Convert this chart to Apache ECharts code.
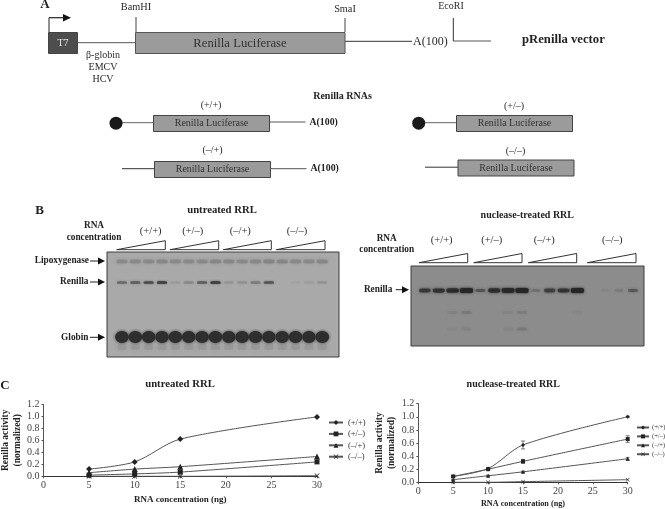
<!DOCTYPE html>
<html><head><meta charset="utf-8">
<style>html,body{margin:0;padding:0;background:#fff}#c{width:665px;height:509px;filter:blur(0.35px)}</style>
<script src="https://cdn.jsdelivr.net/npm/echarts@6/dist/echarts.min.js"></script>
</head><body><div id="c"></div>
<script>
// ---------- data ----------
const seriesNames = ['(+/+)', '(+/\u2013)', '(\u2013/+)', '(\u2013/\u2013)'];
const concentrations = [5, 10, 15, 30];
const untreatedPP = [0.12, 0.24, 0.62, 0.99];
const untreatedPM = [0.02, 0.04, 0.07, 0.24];
const untreatedMP = [0.06, 0.12, 0.16, 0.33];
const untreatedMM = [0.00, 0.00, 0.00, 0.01];
const nucleasePP = [0.09, 0.21, 0.57, 1.00];
const nucleasePM = [0.09, 0.20, 0.32, 0.66];
const nucleaseMP = [0.04, 0.10, 0.16, 0.36];
const nucleaseMM = [0.00, 0.00, 0.01, 0.04];
const nucleasePPErr = [0.01, 0.01, 0.06, 0.01];
const nucleasePMErr = [0.01, 0.01, 0.03, 0.05];
const nucleaseMPErr = [0.00, 0.01, 0.01, 0.02];
const lanes = [0,1,2,3,4,5,6,7,8,9,10,11,12,13,14,15];
const untreatedLipox   = [.45,.45,.45,.5,.45,.45,.45,.5,.5,.45,.5,.55,.5,.45,.45,.5];
const untreatedRenilla = [.4,.5,.7,.9,.08,.18,.5,.95,.1,.14,.28,.6,.0,.03,.06,.12];
const untreatedGlobin  = [1,1,1,1,1,1,1,1,1,1,1,1,1,1,1,1];
const nucleaseRenilla  = [.65,.75,.85,1,.4,.8,.92,1,.2,.6,.72,1,.0,.05,.12,.35];
const nucleaseFaint    = [0,0,.08,.16,0,0,.06,.14,0,0,0,.03,0,0,0,0];
const nucleaseFaint2   = [0,0,.03,.07,0,0,.06,.16,0,0,0,0,0,0,0,0];

// ---------- helpers ----------
const SERIF = '"Liberation Serif","Times New Roman",serif';
const TXT = '#2a2a2a', BOLD = '#222';
const g = [];
function text(x, y, s, size, o) {
  o = o || {};
  g.push({type:'text', x, y, silent:true, z:50, style:{text:s, fill:o.fill||TXT, font:(o.bold?'bold ':'')+size+'px '+SERIF,
    align:o.align||'center', verticalAlign:'middle'}});
}
function line(x1,y1,x2,y2,c,w) {
  g.push({type:'line', silent:true, z:40, shape:{x1,y1,x2,y2}, style:{stroke:c||'#444', lineWidth:w||1}});
}
function box(x,y,w,h,fill,stroke) {
  g.push({type:'rect', silent:true, z:41, shape:{x,y,width:w,height:h}, style:{fill, stroke:stroke||'#555', lineWidth:1}});
}
function arrow(x1,x2,y) {
  line(x1,y,x2-5,y,'#222',1);
  g.push({type:'polygon', silent:true, z:42, shape:{points:[[x2-7,y-3.5],[x2,y],[x2-7,y+3.5]]}, style:{fill:'#111'}});
}
function wedge(x1,x2,yBot,yTop) {
  g.push({type:'polygon', silent:true, z:42, shape:{points:[[x1,yBot],[x2,yTop],[x2,yBot]]}, style:{fill:'#fff',stroke:'#333',lineWidth:1}});
}
function dot(x,y){ g.push({type:'circle', silent:true, z:42, shape:{cx:x,cy:y,r:6.5}, style:{fill:'#1a1a1a'}}); }

// ---------- panel A ----------
text(45,5,'A',13,{bold:true,fill:BOLD});
box(48.5,32.5,29,21,'#4d4d4d','#444'); text(63,43.5,'T7',10,{fill:'#e8e8e8'});
line(49,32,49,17.7,'#222',1); line(49,17.7,64,17.7,'#222',1.2);
g.push({type:'polygon',silent:true,z:42,shape:{points:[[63,14],[71,17.7],[63,21.4]]},style:{fill:'#111'}});
line(78,42.7,135,42.7,'#555',1);
text(103,55,'\u03b2-globin',10); text(103,67,'EMCV',10); text(103,79,'HCV',10);
text(136,7,'BamHI',10.3); line(136,17,136,32,'#444',1);
box(135.5,32.5,209.5,21,'#9b9b9b','#555'); text(240,43.5,'Renilla Luciferase',12.7,{fill:'#333'});
text(345,9,'SmaI',10.3); line(345,18,345,32,'#444',1);
line(345,41.3,412,41.3,'#333',1); text(413,41.5,'A(100)',12,{align:'left'});
text(451,6,'EcoRI',10); line(453.3,18,453.3,41,'#333',1); line(453,41,491,41,'#555',1);
text(522,39.5,'pRenilla vector',12.7,{bold:true,align:'left',fill:BOLD});
text(342.5,96.5,'Renilla RNAs',10,{bold:true,fill:BOLD});

function rna(label,lx,ly,cap,lineStart,boxX,boxY,tail,tailY) {
  text(lx,ly,label,10);
  if (cap) dot(lineStart,boxY+7.7);
  line(lineStart,boxY+7.2,boxX,boxY+7.2,cap?'#666':'#333',1);
  box(boxX,boxY,116,16,'#9b9b9b','#444');
  text(boxX+58,boxY+8.3,'Renilla Luciferase',10,{fill:'#333'});
  if (tail) { line(boxX+116,tailY,boxX+152,tailY,'#555',1); text(boxX+156,tailY,'A(100)',9.8,{bold:true,align:'left',fill:BOLD}); }
}
rna(seriesNames[0],211,105.5,true,116,153.5,115.5,true,122);
rna(seriesNames[2],212.5,150,false,122,154.5,161.5,true,168.7);
rna(seriesNames[1],514,106.5,true,418.7,456.5,115.5,false);
rna(seriesNames[3],515.5,151,false,425,458,160,false);

// ---------- panel B text ----------
text(39.5,211,'B',13,{bold:true,fill:BOLD});
text(222,210,'untreated RRL',10.7,{bold:true,fill:BOLD});
text(94,226,'RNA',9.3,{bold:true,fill:BOLD}); text(94,237.5,'concentration',9.3,{bold:true,fill:BOLD});
[[150.7],[192.7],[240.3],[297]].forEach((p,i)=>text(p[0],231,seriesNames[i],10.5));
[[116.7,165.3],[170,218.7],[223.3,271.3],[276.3,325]].forEach(p=>wedge(p[0],p[1],249.7,240.7));
text(89,260.7,'Lipoxygenase',9.3,{bold:true,align:'right',fill:BOLD}); arrow(90,105,261);
text(88.5,282,'Renilla',9.3,{bold:true,align:'right',fill:BOLD}); arrow(90,105,282);
text(88.5,337.3,'Globin',9.3,{bold:true,align:'right',fill:BOLD}); arrow(90,105,337.3);

text(527.3,215,'nuclease-treated RRL',10,{bold:true,fill:BOLD});
text(386.7,238.7,'RNA',9.3,{bold:true,fill:BOLD}); text(386.7,250,'concentration',9.3,{bold:true,fill:BOLD});
[[441.7],[491.7],[544.3],[612.3]].forEach((p,i)=>text(p[0],240,seriesNames[i],10.5));
[[419,467.7],[473.7,522],[528.3,576.7],[587.3,636]].forEach(p=>wedge(p[0],p[1],262.7,253.5));
text(392.3,289.7,'Renilla',9.3,{bold:true,align:'right',fill:BOLD}); arrow(395.7,409,289.7);

// ---------- panel C text ----------
text(5,385.5,'C',13,{bold:true,fill:BOLD});
text(180,384,'untreated RRL',10.7,{bold:true,fill:BOLD});
text(513.3,384,'nuclease-treated RRL',10,{bold:true,fill:BOLD});

// ---------- gel band series ----------
function bands(values, pos, gridIdx, color, w, h, blur, symbol) {
  return {type:'scatter', xAxisIndex:gridIdx, yAxisIndex:gridIdx, silent:true, z:3,
    symbol:symbol||'roundRect', animation:false,
    data: lanes.map(i=>({value:[i,pos], symbolSize:[typeof w==='function'?w(values[i]):w, typeof h==='function'?h(values[i]):h],
      itemStyle:{opacity:values[i], color, shadowBlur:blur, shadowColor:color}}))};
}
// ---------- line series ----------
const sym = ['diamond','rect','triangle','path://M0 1L1 0 5 4 9 0 10 1 6 5 10 9 9 10 5 6 1 10 0 9 4 5Z'];
const pair = a => concentrations.map((x,i)=>[x,a[i]]);
function lines(name,vals,idx,gi,size,extraName) {
  return {type:'line', name:name+extraName, xAxisIndex:gi, yAxisIndex:gi, data:pair(vals), smooth:0.3,
    symbol:sym[idx], symbolSize:size, showSymbol:true, silent:true, animation:false, z:5,
    lineStyle:{color:'#555',width:1}, itemStyle:{color:'#222'}};
}
const errs = [[nucleasePP,nucleasePPErr],[nucleasePM,nucleasePMErr],[nucleaseMP,nucleaseMPErr]].map(([v,e])=>({
  type:'custom', xAxisIndex:3, yAxisIndex:3, silent:true, animation:false, z:4,
  data: concentrations.map((x,i)=>[x,v[i],e[i]]),
  renderItem:(p,api)=>{
    const x=api.value(0), y=api.value(1), e=api.value(2);
    const a=api.coord([x,y+e]), b=api.coord([x,y-e]);
    const st={stroke:'#555',lineWidth:.8,fill:null};
    return {type:'group',children:[
      {type:'line',shape:{x1:a[0],y1:a[1],x2:b[0],y2:b[1]},style:st},
      {type:'line',shape:{x1:a[0]-2,y1:a[1],x2:a[0]+2,y2:a[1]},style:st},
      {type:'line',shape:{x1:b[0]-2,y1:b[1],x2:b[0]+2,y2:b[1]},style:st}]};
  }}));

const tickLab = {fontFamily:SERIF,fontSize:10,color:'#444'};
const nameSt = {fontFamily:SERIF,fontSize:9.5,fontWeight:'bold',color:BOLD};
function xA(gi,gap,size){return {type:'value',gridIndex:gi,min:0,max:30,interval:5,name:'RNA concentration (ng)',nameLocation:'middle',nameGap:gap,nameTextStyle:Object.assign({},nameSt,{fontSize:size}),
  axisLine:{lineStyle:{color:'#333'}},axisTick:{show:true,length:2,lineStyle:{color:'#555'}},axisLabel:Object.assign({margin:4},tickLab),splitLine:{show:false}};}
function yA(gi,gap){return {type:'value',gridIndex:gi,min:0,max:1.2,interval:0.2,name:'Renilla activity\n(normalized)',nameLocation:'middle',nameGap:gap,nameRotate:90,
  nameTextStyle:Object.assign({lineHeight:12},nameSt),
  axisLine:{show:true,lineStyle:{color:'#555'}},axisTick:{show:true,length:2,lineStyle:{color:'#555'}},
  axisLabel:Object.assign({margin:4,formatter:v=>v.toFixed(1)},tickLab),splitLine:{show:false}};}
const hid = (gi,min,max,inv)=>({type:'value',gridIndex:gi,min,max,inverse:!!inv,show:false,splitLine:{show:false}});

const option = {
  backgroundColor:'#fff', animation:false,
  grid:[
    {outerBoundsMode:'none',left:107,top:252,width:232,height:105,show:true,backgroundColor:'#a9a9a9',borderColor:'#3c3c3c',borderWidth:1},
    {outerBoundsMode:'none',left:411,top:266,width:233,height:80,show:true,backgroundColor:'#8c8c8c',borderColor:'#3c3c3c',borderWidth:1},
    {outerBoundsMode:'none',left:43.5,top:404.3,width:273.5,height:72},
    {outerBoundsMode:'none',left:418.3,top:403.7,width:209.4,height:78.6}
  ],
  xAxis:[hid(0,-1.12,16.25),hid(1,-1.0,15.8),xA(2,19,9),xA(3,17.5,8.2)],
  yAxis:[hid(0,0,105,true),hid(1,0,80,true),yA(2,20),yA(3,19)],
  legend:[
    {data:seriesNames.map(n=>n),orient:'vertical',left:328,top:418,itemWidth:14,itemHeight:6,itemGap:2.4,padding:0,selectedMode:false,
     textStyle:{fontFamily:SERIF,fontSize:8.5,color:'#333'}},
    {data:seriesNames.map(n=>n+' '),orient:'vertical',left:636,top:424,itemWidth:12,itemHeight:5,itemGap:1.9,padding:0,selectedMode:false,
     textStyle:{fontFamily:SERIF,fontSize:6.5,color:'#333',padding:[0,0,0,-2]}}
  ],
  graphic:{elements:g},
  series:[
    bands(untreatedLipox,9.5,0,'#777',11,4,3),
    bands(untreatedRenilla,30.5,0,'#3a3a3a',10,2.5,2),
    bands(untreatedGlobin,85,0,'#2e2e2e',13.5,12,3,'circle'),
    bands(untreatedGlobin.map(()=>.15),95,0,'#666',9,6,4),
    bands(nucleaseRenilla,24.5,1,'#262626',v=>8+5*v,v=>2+3*v,3),
    bands(nucleaseFaint,46.5,1,'#444',10,3,3),
    bands(nucleaseFaint2,63,1,'#444',10,3,3),
    lines(seriesNames[0],untreatedPP,0,2,6,''),
    lines(seriesNames[1],untreatedPM,1,2,5,''),
    lines(seriesNames[2],untreatedMP,2,2,6,''),
    lines(seriesNames[3],untreatedMM,3,2,5,''),
    lines(seriesNames[0],nucleasePP,0,3,4,' '),
    lines(seriesNames[1],nucleasePM,1,3,4,' '),
    lines(seriesNames[2],nucleaseMP,2,3,4,' '),
    lines(seriesNames[3],nucleaseMM,3,3,4,' ')
  ].concat(errs)
};
echarts.init(document.getElementById('c'),null,{renderer:'canvas'}).setOption(option);
</script></body></html>
